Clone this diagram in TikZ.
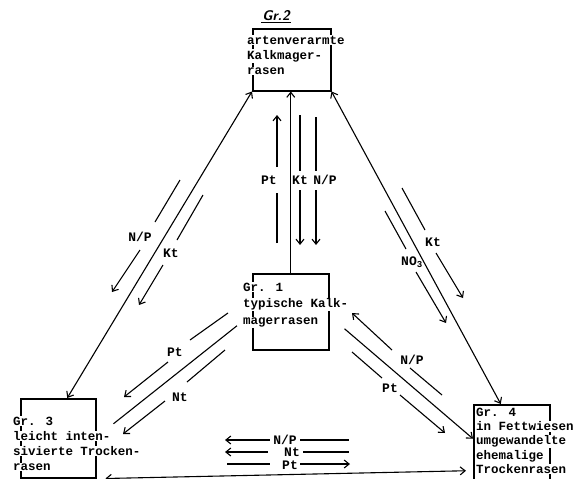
\documentclass[tikz,border=0pt]{standalone}
\usepackage{fontspec}
\setmainfont{Liberation Mono}
\usetikzlibrary{arrows.meta}
\newcommand\wl[1]{{\setlength\fboxsep{0.8pt}\colorbox{white}{#1}}}
\begin{document}
\begin{tikzpicture}[x=1pt,y=-1pt,
  >={Straight Barb[length=5pt,width=8pt]},
  box/.style={draw, line width=1.5pt, inner sep=0pt, anchor=north west},
  txt/.style={anchor=north west, inner sep=0pt, align=left, font=\fontsize{12.5}{15}\selectfont\bfseries},
  lab/.style={inner sep=0pt, font=\fontsize{13}{15}\selectfont\bfseries},
  ar/.style={line width=1.1pt}]
\useasboundingbox (0,0) rectangle (574,479);
% boxes
\node[box, minimum width=78pt, minimum height=62pt] (g2) at (252,28) {};
\node[box, minimum width=76pt, minimum height=76pt] (g1) at (252,273) {};
\node[box, minimum width=75pt, minimum height=79pt] (g3) at (20,398) {};
\node[box, minimum width=76pt, minimum height=90pt] (g4) at (473,404) {};
% texts
\node[font=\sffamily\bfseries\itshape\fontsize{14}{16}\selectfont, inner sep=1pt] (g2lab) at (276,16) {Gr.2};
\draw[line width=1.3pt] (g2lab.south west) -- (g2lab.south east);
\node[txt] (t2) at (246,35) {\wl{artenverarmte}\\\wl{Kalkmager-}\\\wl{rasen}};
\node[txt, font=\fontsize{12.5}{16.5}\selectfont\bfseries] (t1) at (242,282) {\wl{Gr. 1}\\\wl{typische Kalk-}\\\wl{magerrasen}};
\node[txt] (t3) at (12,416) {\wl{Gr. 3}\\\wl{leicht inten-}\\\wl{sivierte Trocken-}\\\wl{rasen}};
\node[txt, font=\fontsize{12.5}{14.3}\selectfont\bfseries] (t4) at (475,407) {\wl{Gr. 4}\\\wl{in Fettwiesen}\\\wl{umgewandelte}\\\wl{ehemalige}\\\wl{Trockenrasen}};
% Gr3 - Gr2 side arrows
\draw[ar] (180,180) -- (155,222);
\node[lab] (lnp1) at (140,237) {N/P};
\draw[ar,->] (140,250) -- (112,292);
\draw[ar] (203,195) -- (177,240);
\node[lab] (lkt1) at (171,253) {Kt};
\draw[ar,->] (163,265) -- (139,305);
% vertical arrows
\draw[ar] (277,243) -- (277,193);
\node[lab] (lpt2) at (269,180) {Pt};
\draw[ar,->] (277,167) -- (277,115);
\draw[ar] (300,115) -- (300,171);
\node[lab] (lkt2) at (300,180) {Kt};
\draw[ar,->] (300,190) -- (300,245);
\draw[ar] (316,117) -- (316,171);
\node[lab] (lnp2) at (325,180) {N/P};
\draw[ar,->] (316,190) -- (316,245);
% Gr2 - Gr4 side arrows
\draw[ar] (402,188) -- (425,230);
\node[lab] (lkt3) at (433,242) {Kt};
\draw[ar,->] (436,253) -- (463,298);
\draw[ar] (385,211) -- (406,249);
\node[lab] (lno3) at (412,262) {NO\textsubscript{3}};
\draw[ar,->] (416,272) -- (446,323);
% Gr1 - Gr3 arrows
\draw[ar] (228,313) -- (190,340);
\node[lab] (lpt4) at (175,352) {Pt};
\draw[ar,->] (168,362) -- (124,397);
\draw[ar] (225,350) -- (187,382);
\node[lab] (lnt4) at (180,397) {Nt};
\draw[ar,->] (165,401) -- (123,434);
% Gr1 - Gr4 arrows
\draw[ar,<-] (352,313) -- (392,350);
\node[lab] (lnp5) at (412,360) {N/P};
\draw[ar] (410,368) -- (442,395);
\draw[ar] (352,352) -- (382,378);
\node[lab] (lpt5) at (390,388) {Pt};
\draw[ar,->] (400,395) -- (445,433);
% bottom arrows
\draw[ar,<-] (225,440) -- (270,440);
\node[lab] (lnp6) at (285,440) {N/P};
\draw[ar] (300,440) -- (349,440);
\draw[ar,<-] (225,452) -- (268,452);
\node[lab] (lnt6) at (292,452) {Nt};
\draw[ar] (303,452) -- (349,452);
\draw[ar] (227,464) -- (270,464);
\node[lab] (lpt6) at (290,465) {Pt};
\draw[ar,->] (300,464) -- (350,464);
% main connectors
\draw[ar,<->] (g2.south west) -- ([xshift=9pt]g3.north);
\draw[ar,<->] (g2.south east) -- ([xshift=-11pt]g4.north);
\draw[ar,->] (g1.north) -- (g1.north |- g2.south);
\draw[ar] ([xshift=-15pt,yshift=-14pt]g1.west) -- ([xshift=17pt,yshift=14.5pt]g3.east);
\draw[ar,->] ([xshift=15pt,yshift=-17pt]g1.east) -- ([yshift=11pt]g4.west);
\draw[ar,<->] ([xshift=9pt]g3.south east) -- ([xshift=-7pt,yshift=-21pt]g4.west);
\end{tikzpicture}
\end{document}
